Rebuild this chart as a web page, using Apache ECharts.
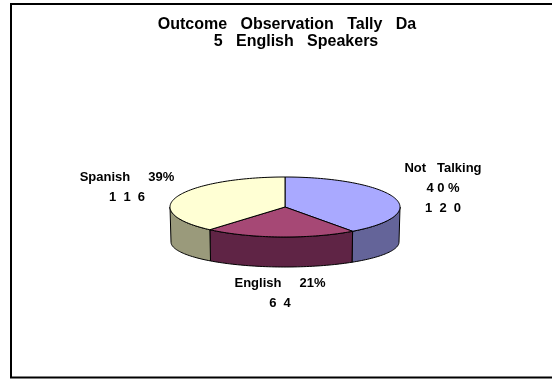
<!DOCTYPE html>
<html>
<head>
<meta charset="utf-8">
<script src="https://cdn.jsdelivr.net/npm/echarts@6/dist/echarts.min.js"></script>
<style>
  html, body { margin: 0; padding: 0; background: #ffffff; }
  #chart { width: 552px; height: 381px; }
</style>
</head>
<body>
<div id="chart"></div>
<script>
// Chart content
const titleLines = ['Outcome   Observation   Tally   Da', '5   English   Speakers'];
const categories = ['Not Talking', 'English', 'Spanish'];
const counts = [120, 64, 116];

// Appearance
const topColors = ['#A9A9FF', '#A64875', '#FFFFD4'];
const sideColors = ['#646499', '#5F2445', '#9A9A7B'];
const FONT = '"Liberation Sans", Arial, sans-serif';

// Tilted pie geometry (pixels): top face ellipse and the slightly flatter bottom rim
const PIE = { cx: 285, cy: 207, rx: 115, ry: 30 };
const BASE = { cx: 285, cy: 242, rx: 114, ry: 25 };

// Where each slice's label block sits and how it is arranged
const labelLayout = [
  { x: 443, y: 158, stacked: true },
  { x: 280, y: 273.5, stacked: false },
  { x: 127, y: 167.5, stacked: false }
];

const total = counts.reduce((a, b) => a + b, 0);
const startFrac = counts.map((v, i) => counts.slice(0, i).reduce((a, b) => a + b, 0) / total);

function spaced(str, gap) { return String(str).split('').join(gap); }
function pct(v) { return Math.round(v / total * 100) + '%'; }

function pt(e, deg) {
  const r = deg * Math.PI / 180;
  return [e.cx + e.rx * Math.cos(r), e.cy - e.ry * Math.sin(r)];
}

function arc(e, from, to) {
  const n = Math.max(2, Math.ceil(Math.abs(to - from) / 1.5));
  const pts = [];
  for (let k = 0; k <= n; k++) pts.push(pt(e, from + (to - from) * k / n));
  return pts;
}

// Portion of [lo, hi] (degrees, counter-clockwise) lying on the front half of the disc
function frontRanges(lo, hi) {
  const out = [];
  for (const shift of [-360, 0, 360]) {
    const a = Math.max(lo, -180 + shift), b = Math.min(hi, 0 + shift);
    if (b > a) out.push([a, b]);
  }
  return out;
}

function renderItem(params, api) {
  const i = params.dataIndex;
  const v = api.value(0);
  const a0 = 90 - 360 * startFrac[i];
  const a1 = a0 - 360 * v / total;
  const children = [];

  frontRanges(a1, a0).forEach(([lo, hi]) => {
    children.push({
      type: 'polygon',
      shape: { points: arc(PIE, lo, hi).concat(arc(BASE, hi, lo)) },
      style: { fill: sideColors[i], stroke: '#000', lineWidth: 1 },
      z2: 1
    });
  });

  children.push({
    type: 'polygon',
    shape: { points: [[PIE.cx, PIE.cy]].concat(arc(PIE, a0, a1)) },
    style: { fill: topColors[i], stroke: '#000', lineWidth: 1 },
    z2: 2
  });

  const L = labelLayout[i];
  const text = L.stacked
    ? [categories[i].split(' ').join('   '), spaced(pct(v), ' '), spaced(v, '  ')].join('\n')
    : [categories[i] + '     ' + pct(v), spaced(v, '  ')].join('\n');
  children.push({
    type: 'text',
    style: {
      text: text, x: L.x, y: L.y,
      align: 'center', verticalAlign: 'top',
      font: 'bold 13px ' + FONT, lineHeight: 20, fill: '#000'
    },
    z2: 3
  });

  return { type: 'group', children: children };
}

const chart = echarts.init(document.getElementById('chart'), null, { renderer: 'canvas' });
chart.setOption({
  animation: false,
  backgroundColor: '#ffffff',
  graphic: [
    {
      type: 'rect',
      shape: { x: 11, y: 4, width: 560, height: 373.5 },
      style: { fill: 'none', stroke: '#000', lineWidth: 2 }
    },
    {
      type: 'text',
      style: { text: titleLines[0], x: 287, y: 25, align: 'center', verticalAlign: 'middle',
               font: 'bold 16px ' + FONT, fill: '#000' }
    },
    {
      type: 'text',
      style: { text: titleLines[1], x: 296, y: 42, align: 'center', verticalAlign: 'middle',
               font: 'bold 16px ' + FONT, fill: '#000' }
    }
  ],
  series: [{
    type: 'custom',
    coordinateSystem: 'none',
    renderItem: renderItem,
    data: categories.map((c, i) => ({ name: c, value: counts[i] }))
  }]
});
</script>
</body>
</html>
